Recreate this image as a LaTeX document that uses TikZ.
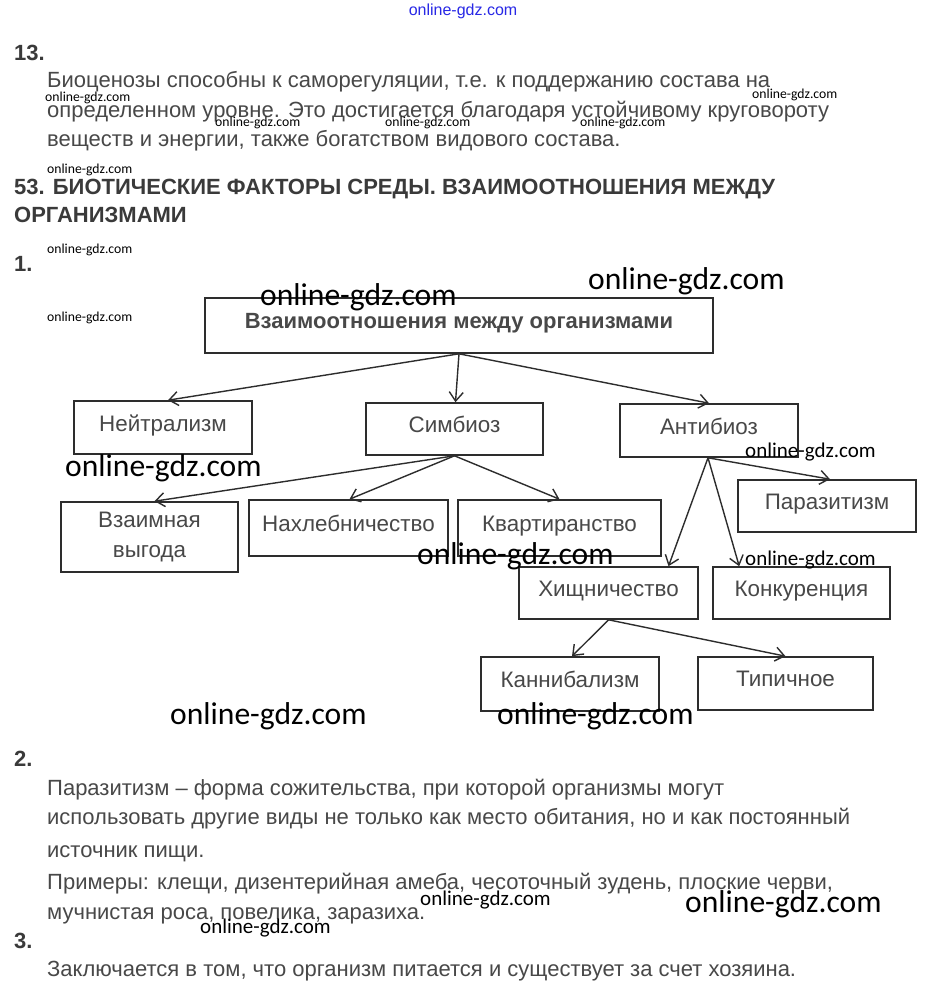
\documentclass[tikz,border=0pt]{standalone}
\usepackage{fontspec}
\setmainfont{Liberation Sans}
\newfontfamily\wm{Carlito}
\usetikzlibrary{arrows.meta,calc}
\definecolor{txt}{RGB}{72,72,72}
\definecolor{ln}{RGB}{45,45,45}
\definecolor{wblue}{RGB}{40,40,230}
\tikzset{
  body/.style={anchor=base west,inner sep=0pt,text=txt,font=\fontsize{22}{26}\selectfont},
  head/.style={anchor=base west,inner sep=0pt,text=txt!80!black,font=\fontsize{22}{26}\selectfont\bfseries},
  box/.style={draw=ln,line width=1.6pt,text=txt,font=\fontsize{22.4}{27}\selectfont,inner sep=0pt,align=center},
  onebox/.style={box,text depth=9pt},
  arr/.style={ln,line width=1.4pt,-{Straight Barb[length=9pt,width=14pt,line width=1.4pt]}},
  wms/.style={anchor=west,inner sep=0pt,font=\wm\fontsize{13.7}{14}\selectfont},
  wmm/.style={anchor=west,inner sep=0pt,font=\wm\fontsize{21}{21}\selectfont},
  wml/.style={anchor=west,inner sep=0pt,font=\wm\fontsize{31.6}{32}\selectfont},
}
\begin{document}
\begin{tikzpicture}[x=1pt,y=-1pt]
\useasboundingbox[fill=white] (0,0) rectangle (926,991);

% top watermark
\node[anchor=center,inner sep=0pt,text=wblue,font=\fontsize{16}{16}\selectfont] (wtop) at (463,11) {online-gdz.com};

% section 13
\node[head] (n13) at (14,60) {13.};
\node[body] (p1) at (47,87) {Биоценозы способны к саморегуляции, т.е. к поддержанию состава на};
\node[body] (p2) at (47,117) {определенном уровне. Это достигается благодаря устойчивому круговороту};
\node[body] (p3) at (47,146) {веществ и энергии, также богатством видового состава.};

\node[head] (h1) at (14,194) {53. БИОТИЧЕСКИЕ ФАКТОРЫ СРЕДЫ. ВЗАИМООТНОШЕНИЯ МЕЖДУ};
\node[head] (h2) at (14,222) {ОРГАНИЗМАМИ};
\node[head] (n1) at (14,271) {1.};

% diagram boxes
\node[onebox,minimum width=508pt,minimum height=55pt,font=\fontsize{22}{27}\selectfont\bfseries] (top) at (459,325.5) {Взаимоотношения между организмами};
\node[onebox,minimum width=178pt,minimum height=53pt] (neu) at (163,427.5) {Нейтрализм};
\node[onebox,minimum width=177pt,minimum height=52pt] (sim) at (454.5,429) {Симбиоз};
\node[onebox,minimum width=178pt,minimum height=53pt] (ant) at (709,430.5) {Антибиоз};
\node[box,minimum width=177pt,minimum height=70pt] (vza) at (149.5,537) {Взаимная\\[3pt]выгода};
\node[onebox,minimum width=199pt,minimum height=56pt] (nax) at (348.5,528) {Нахлебничество};
\node[onebox,minimum width=203pt,minimum height=56pt] (kva) at (559.5,528) {Квартиранство};
\node[onebox,minimum width=178pt,minimum height=52pt] (par) at (827,506) {Паразитизм};
\node[onebox,minimum width=179pt,minimum height=52pt] (his) at (608.5,593) {Хищничество};
\node[onebox,minimum width=177pt,minimum height=52pt] (kon) at (801.5,593) {Конкуренция};
\node[onebox,minimum width=178pt,minimum height=54pt] (kan) at (570,684) {Каннибализм};
\node[onebox,minimum width=175pt,minimum height=53pt] (tip) at (785.5,683.5) {Типичное};

% connectors
\draw[arr] (top.south) -- ($(neu.north)+(5,0)$);
\draw[arr] (top.south) -- ($(sim.north)+(1,0)$);
\draw[arr] (top.south) -- (ant.north);
\draw[arr] (sim.south) -- ($(vza.north)+(5,0)$);
\draw[arr] (sim.south) -- ($(nax.north)+(1,0)$);
\draw[arr] (sim.south) -- (kva.north);
\coordinate (ants) at ($(ant.south)+(-1,0)$);
\draw[arr] (ants) -- ($(par.north)+(3,0)$);
\draw[arr] (ants) -- ($(his.north)+(60,0)$);
\draw[arr] (ants) -- ($(kon.north west)+(27,0)$);
\draw[arr] (his.south) -- ($(kan.north)+(2,0)$);
\draw[arr] (his.south) -- (tip.north);

% section 2
\node[head] (n2) at (14,766) {2.};
\node[body] (q1) at (47,795) {Паразитизм – форма сожительства, при которой организмы могут};
\node[body] (q2) at (47,824) {использовать другие виды не только как место обитания, но и как постоянный};
\node[body] (q3) at (47,857) {источник пищи.};
\node[body] (q4) at (47,889) {Примеры: клещи, дизентерийная амеба, чесоточный зудень, плоские черви,};
\node[body] (q5) at (47,919) {мучнистая роса, повелика, заразиха.};
\node[head] (n3) at (14,948) {3.};
\node[body] (q6) at (47,976) {Заключается в том, что организм питается и существует за счет хозяина.};

% watermarks
\node[wms] (w1) at (45,98) {online-gdz.com};
\node[wms] (w2) at (752,95) {online-gdz.com};
\node[wms] (w3) at (215,123) {online-gdz.com};
\node[wms] (w4) at (385,123) {online-gdz.com};
\node[wms] (w5) at (580,123) {online-gdz.com};
\node[wms] (w6) at (47,170) {online-gdz.com};
\node[wms] (w7) at (47,250) {online-gdz.com};
\node[wms] (w8) at (47,318) {online-gdz.com};
\node[wmm] (w9) at (745,452) {online-gdz.com};
\node[wmm] (w10) at (745,560) {online-gdz.com};
\node[wmm] (w11) at (420,900) {online-gdz.com};
\node[wmm] (w12) at (200,928) {online-gdz.com};
\node[wml] (w13) at (260,297) {online-gdz.com};
\node[wml] (w14) at (588,281) {online-gdz.com};
\node[wml] (w15) at (65,468) {online-gdz.com};
\node[wml] (w16) at (417,556) {online-gdz.com};
\node[wml] (w17) at (170,716) {online-gdz.com};
\node[wml] (w18) at (497,716) {online-gdz.com};
\node[wml] (w19) at (685,904) {online-gdz.com};
\end{tikzpicture}
\end{document}
